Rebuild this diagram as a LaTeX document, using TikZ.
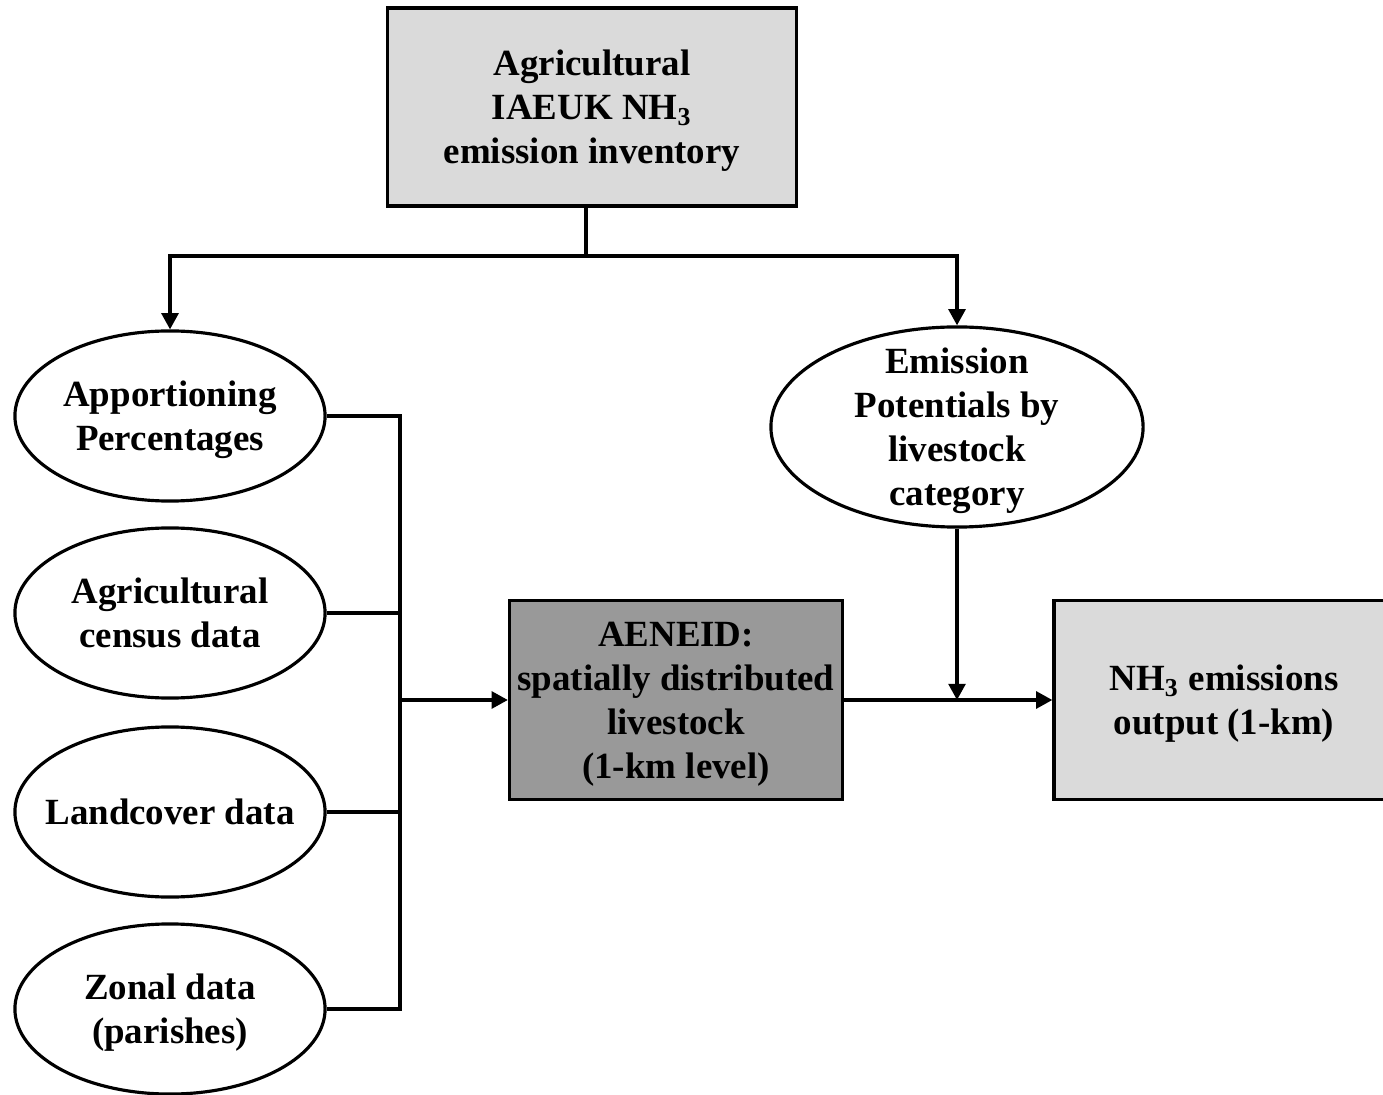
\documentclass[tikz,border=0pt]{standalone}
\usepackage{fontspec}
\setmainfont{Liberation Serif}
\usetikzlibrary{arrows.meta,positioning,shapes.geometric}
\definecolor{boxlight}{HTML}{DADADA}
\definecolor{boxdark}{HTML}{999999}
\tikzset{
  every node/.style={font=\fontsize{10.5}{12.5}\selectfont\bfseries,align=center,text depth=0pt},
  databox/.style={draw=black,line width=0.9pt,rectangle,inner sep=0pt},
  dataell/.style={draw=black,line width=0.9pt,ellipse,inner xsep=-0.4cm,inner ysep=-0.5cm,minimum width=3.1cm,minimum height=1.7cm},
  link/.style={line width=0.9pt},
  arrow/.style={line width=0.9pt,-{Triangle[length=4.6pt,width=4.8pt]}}
}
\begin{document}
\begin{tikzpicture}[x=0.01cm,y=-0.01cm]
\useasboundingbox (0,0) rectangle (1383,1095);
% inventory on top
\node[databox,fill=boxlight,minimum width=4.09cm,minimum height=1.98cm] (inventory) at (592,107) {Agricultural\\IAEUK NH\textsubscript{3}\\emission inventory};
% input data on the left
\node[dataell] (appor) at (170,416) {Apportioning\\Percentages};
\node[dataell] (census) at (170,613) {Agricultural\\census data};
\node[dataell] (landcover) at (170,812) {Landcover data};
\node[dataell] (zonal) at (170,1009) {Zonal data\\(parishes)};
% emission potentials
\node[dataell,minimum width=3.72cm,minimum height=2cm] (potentials) at (957,427) {Emission\\Potentials by\\livestock\\category};
% middle and output boxes
\node[databox,fill=boxdark,minimum width=3.33cm,minimum height=1.99cm] (aeneid) at (676,700) {AENEID:\\spatially distributed\\livestock\\(1-km level)};
\node[databox,fill=boxlight,minimum width=3.4cm,minimum height=1.99cm] (output) at (1224,700) {NH\textsubscript{3} emissions\\output (1-km)};
% split from the inventory
\coordinate (split) at (586,256);
\draw[link] (inventory.south -| split) -- (split);
\draw[arrow] (split) -| (appor.north);
\draw[arrow] (split) -| (potentials.north);
% bus joining the inputs
\coordinate (bus) at (400,0);
\draw[link] (appor.east) -- (appor.east -| bus) -- (zonal.east -| bus) -- (zonal.east);
\draw[link] (census.east) -- (census.east -| bus);
\draw[link] (landcover.east) -- (landcover.east -| bus);
\draw[arrow] (aeneid.west -| bus) -- (aeneid.west);
% to the output
\draw[arrow] (aeneid.east) -- (output.west);
\draw[arrow] (potentials.south) -- (potentials.south |- output.west);
\end{tikzpicture}
\end{document}
